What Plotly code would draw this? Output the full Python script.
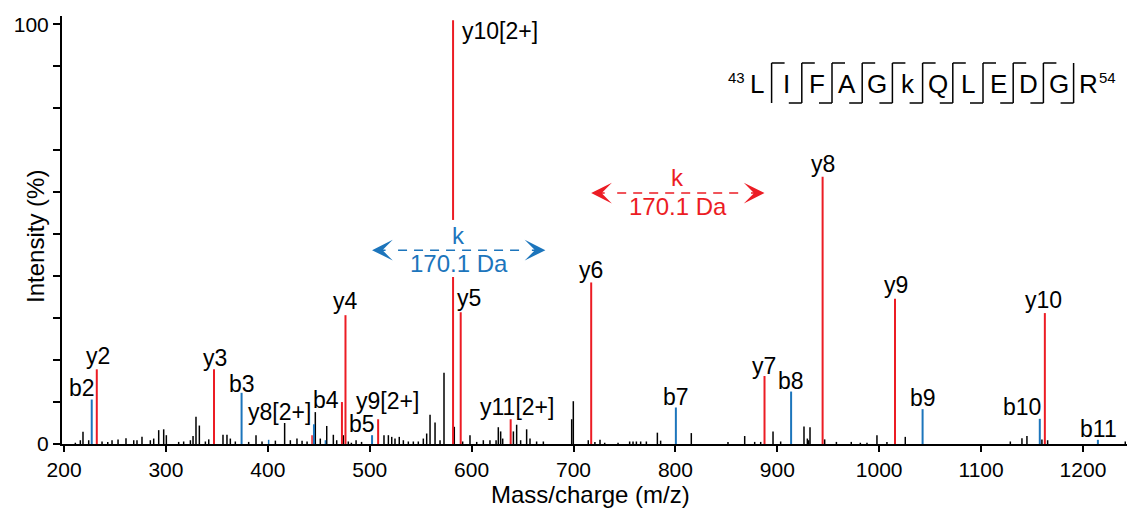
import plotly.graph_objects as go

# ---------------- data ----------------
b_ions = ["b2", "b3", "b4", "b5", "b7", "b8", "b9", "b10", "b11"]
b_mz = [227.18, 374.24, 445.28, 502.30, 800.46, 913.54, 1042.59, 1157.61, 1214.64]
b_int = [10.6, 12.2, 4.7, 2.1, 8.7, 12.5, 8.3, 6.0, 1.0]

y_ions = ["y2", "y3", "y8[2+]", "y4", "y9[2+]", "y10[2+]", "y5", "y11[2+]",
          "y6", "y7", "y8", "y9", "y10"]
y_mz = [232.14, 347.17, 472.74, 476.21, 508.26, 581.79, 589.29, 638.33,
        717.35, 887.45, 944.47, 1015.51, 1162.58]
y_int = [17.8, 17.8, 10.0, 30.7, 5.9, 101.0, 31.4, 5.9,
         38.5, 16.2, 63.7, 34.6, 31.2]

minor_blue_mz = [400.8, 456.5]
minor_blue_int = [1.0, 0.9]
minor_red_mz = [443.4]
minor_red_int = [2.1]

noise_mz = [211.1, 216.0, 218.6, 224.2, 237.3, 242.9, 247.1, 253.0, 260.8, 268.4,
            271.6, 276.5, 284.7, 288.0, 292.9, 297.8, 300.4, 312.5, 317.4, 324.0,
            326.6, 329.5, 332.8, 338.7, 342.0, 356.0, 359.9, 363.2, 368.1, 381.2,
            388.4, 394.3, 407.4, 416.5, 422.1, 428.6, 433.6, 438.5, 446.6, 451.5,
            457.8, 464.3, 467.6, 474.1, 479.0, 482.0, 486.6, 492.0, 514.0, 518.3,
            521.6, 524.8, 529.0, 533.0, 537.9, 542.8, 547.7, 552.6, 555.9, 559.2,
            564.1, 569.0, 572.9, 583.0, 591.2, 598.4, 605.0, 611.5, 618.0, 624.0,
            626.2, 628.5, 630.5, 641.0, 644.2, 648.1, 654.0, 657.3, 663.8, 670.4,
            698.2, 699.8, 714.5, 721.0, 726.0, 730.6, 743.7, 755.1, 758.4, 761.7,
            765.9, 771.5, 782.3, 785.5, 815.6, 851.6, 868.0, 877.8, 883.7, 895.8,
            903.3, 926.2, 929.5, 930.8, 932.1, 946.5, 958.0, 972.6, 981.5, 988.0,
            997.8, 1007.6, 1025.6, 1128.7, 1140.1, 1145.0, 1159.7, 1165.3, 1241.5]
noise_int = [0.3, 0.9, 2.9, 0.9, 0.6, 0.5, 0.9, 1.1, 1.4, 0.9,
             0.9, 1.7, 0.9, 1.3, 3.3, 3.5, 2.1, 0.5, 0.6, 0.9,
             1.9, 6.5, 4.4, 0.6, 1.1, 2.2, 2.2, 1.3, 0.6, 0.5,
             2.1, 0.6, 0.8, 5.0, 0.9, 1.3, 0.8, 0.6, 7.6, 1.3,
             4.3, 2.2, 0.9, 2.1, 0.6, 0.3, 0.9, 0.5, 2.1, 2.1,
             1.7, 1.3, 1.7, 0.9, 0.6, 0.6, 0.6, 1.3, 2.5, 7.0,
             5.1, 0.9, 17.0, 4.1, 0.6, 2.1, 0.5, 0.9, 0.9, 0.9,
             4.0, 3.0, 1.3, 3.0, 4.6, 0.9, 3.5, 1.3, 0.6, 0.6,
             5.9, 10.2, 0.9, 0.5, 1.0, 0.3, 0.3, 0.6, 0.6, 0.6,
             0.6, 0.6, 2.7, 0.8, 2.6, 0.5, 1.9, 0.5, 0.5, 3.0,
             0.6, 4.2, 1.3, 0.9, 4.0, 1.1, 0.5, 0.5, 0.3, 0.3,
             2.1, 0.5, 1.7, 0.6, 1.4, 1.9, 1.1, 0.9, 0.6]

# mass shift arrows: (start m/z, end m/z)
shift_label = "k"
shift_mass = "170.1 Da"
b_shift = (502.30, 672.40)
y_shift = (717.35, 887.45)

# peptide sequence
seq = ["L", "I", "F", "A", "G", "k", "Q", "L", "E", "D", "G", "R"]
seq_start, seq_end = 43, 54
seq_b_marked = list(range(2, 12))
seq_y_marked = list(range(2, 12))

x_ticks = [200, 300, 400, 500, 600, 700, 800, 900, 1000, 1100, 1200]
y_ticks = [0, 10, 20, 30, 40, 50, 60, 70, 80, 90, 100]
y_tick_text = ["0", "", "", "", "", "", "", "", "", "", "100"]

# ---------------- label positions (m/z, %) ----------------
label_pos = {
    "b2": (217.2, 13.3), "y2": (233.4, 21.0), "y3": (347.7, 20.5), "b3": (374.7, 14.3),
    "y8[2+]": (411.5, 7.6), "b4": (456.6, 10.5), "y4": (476.7, 34.1), "b5": (492.4, 4.8),
    "y9[2+]": (517.5, 10.2), "y5": (597.4, 34.9), "y6": (717.2, 41.5),
    "y11[2+]": (644.6, 8.8), "b7": (800.1, 11.1), "y7": (887.4, 18.7), "b8": (913.9, 14.9),
    "y8": (944.8, 66.7), "y9": (1016.5, 37.9), "b9": (1043.0, 11.0), "y10": (1161.7, 34.3),
    "b10": (1140.4, 8.7), "b11": (1215.7, 3.6),
}
label_left = {"y10[2+]": (588.6, 98.4)}

RED = "#EC1C24"
BLUE = "#1C75BC"
FONT = "Liberation Sans, Arial, Helvetica, sans-serif"

W, H = 1127, 508
ML, MR, MT, MB = 62, 0, 16, 64
XR = [198.0, 1243.2]
YR = [0, 102]


def stems(xs, ys):
    X, Y = [], []
    for x, y in zip(xs, ys):
        X += [x, x, None]
        Y += [0, y, None]
    return X, Y


fig = go.Figure()
for xs, ys, col, w in [(noise_mz, noise_int, "black", 1.5),
                       (minor_blue_mz, minor_blue_int, BLUE, 1.5),
                       (minor_red_mz, minor_red_int, RED, 1.5),
                       (b_mz, b_int, BLUE, 2),
                       (y_mz, y_int, RED, 2)]:
    X, Y = stems(xs, ys)
    fig.add_trace(go.Scatter(x=X, y=Y, mode="lines", line=dict(color=col, width=w),
                             hoverinfo="skip", showlegend=False))

ann = []
for name, (lx, ly) in label_pos.items():
    ann.append(dict(x=lx, y=ly, xref="x", yref="y", text=name, showarrow=False,
                    font=dict(size=23, color="black", family=FONT),
                    xanchor="center", yanchor="middle"))
for name, (lx, ly) in label_left.items():
    ann.append(dict(x=lx, y=ly, xref="x", yref="y", text=name, showarrow=False,
                    font=dict(size=23, color="black", family=FONT),
                    xanchor="left", yanchor="middle"))

shapes = []
px_per_mz = (W - ML - MR) / (XR[1] - XR[0])

# white gap in the tall y10[2+] stem behind the blue shift label
shapes.append(dict(type="rect", xref="x", yref="y", x0=578.5, x1=585.0, y0=39.8, y1=53.4,
                   fillcolor="white", line=dict(width=0), layer="above"))

for (x0, x1), level, col in [(b_shift, 46.2, BLUE), (y_shift, 59.8, RED)]:
    for tip, off in [(x0, 15), (x1, -15)]:
        ann.append(dict(x=tip, y=level, xref="x", yref="y", ax=off, ay=0, text="",
                        showarrow=True, arrowhead=3, arrowsize=2.3, arrowwidth=1.5,
                        arrowcolor=col, standoff=0))
    g = 26 / px_per_mz
    shapes.append(dict(type="line", xref="x", yref="y", x0=x0 + g, x1=x1 - g,
                       y0=level, y1=level, line=dict(color=col, width=1.5, dash="9px,7px")))
    mid = (x0 + x1) / 2
    ann.append(dict(x=mid, y=level + 3.6, xref="x", yref="y", text=shift_label,
                    showarrow=False, xanchor="center", yanchor="middle",
                    font=dict(size=24, color=col, family=FONT)))
    ann.append(dict(x=mid, y=level - 3.2, xref="x", yref="y", text=shift_mass,
                    showarrow=False, xanchor="center", yanchor="middle",
                    font=dict(size=24, color=col, family=FONT)))

# peptide sequence (pixel layout converted to paper coords)
PW, PH = W - ML - MR, H - MT - MB


def px(xp):
    return (xp - ML) / PW


def py(yp):
    return (H - MB - yp) / PH


res0, step = 756.5, 30.2
top_y, bot_y, bar = 63, 103, 13
for i, r in enumerate(seq):
    ann.append(dict(x=px(res0 + step * i), y=py(84), xref="paper", yref="paper",
                    text=r, showarrow=False, font=dict(size=26, color="black", family=FONT),
                    xanchor="center", yanchor="middle"))
ann.append(dict(x=px(747), y=py(77), xref="paper", yref="paper", text=str(seq_start),
                showarrow=False, font=dict(size=15, color="black", family=FONT),
                xanchor="right", yanchor="middle"))
ann.append(dict(x=px(res0 + step * (len(seq) - 1) + 8), y=py(77), xref="paper", yref="paper",
                text=str(seq_end), showarrow=False,
                font=dict(size=15, color="black", family=FONT),
                xanchor="left", yanchor="middle"))
n = len(seq)
for j in range(1, n):
    sx = res0 + step * (j - 0.5)
    lw = dict(color="black", width=1.5)
    shapes.append(dict(type="line", xref="paper", yref="paper", x0=px(sx), x1=px(sx),
                       y0=py(top_y), y1=py(bot_y), line=lw))
    if (n - j) in seq_y_marked:
        shapes.append(dict(type="line", xref="paper", yref="paper", x0=px(sx), x1=px(sx + bar),
                           y0=py(top_y), y1=py(top_y), line=lw))
    if j in seq_b_marked:
        shapes.append(dict(type="line", xref="paper", yref="paper", x0=px(sx - bar), x1=px(sx),
                           y0=py(bot_y), y1=py(bot_y), line=lw))

# axis titles
ann.append(dict(x=px(35), y=py(237), xref="paper", yref="paper", text="Intensity (%)",
                textangle=-90, showarrow=False, xanchor="center", yanchor="middle",
                font=dict(size=24, color="black", family=FONT)))
ann.append(dict(x=px(590), y=py(494), xref="paper", yref="paper", text="Mass/charge (m/z)",
                showarrow=False, xanchor="center", yanchor="middle",
                font=dict(size=24, color="black", family=FONT)))

fig.update_layout(
    width=W, height=H, margin=dict(l=ML, r=MR, t=MT, b=MB),
    paper_bgcolor="white", plot_bgcolor="white",
    annotations=ann, shapes=shapes, showlegend=False,
    font=dict(family=FONT, color="black"),
    xaxis=dict(range=XR, tickvals=x_ticks, showgrid=False, zeroline=False,
               showline=True, linecolor="black", linewidth=2,
               ticks="outside", ticklen=6, tickwidth=2, tickcolor="black",
               tickfont=dict(size=21, color="black", family=FONT)),
    yaxis=dict(range=YR, tickvals=y_ticks, ticktext=y_tick_text, showgrid=False,
               zeroline=False, showline=True, linecolor="black", linewidth=2,
               ticks="outside", ticklen=7, tickwidth=2, tickcolor="black",
               tickfont=dict(size=21, color="black", family=FONT)),
)

fig.write_html("out.html", config={"displayModeBar": False},
               post_script="document.body.style.margin='0';document.body.style.overflow='hidden';")
